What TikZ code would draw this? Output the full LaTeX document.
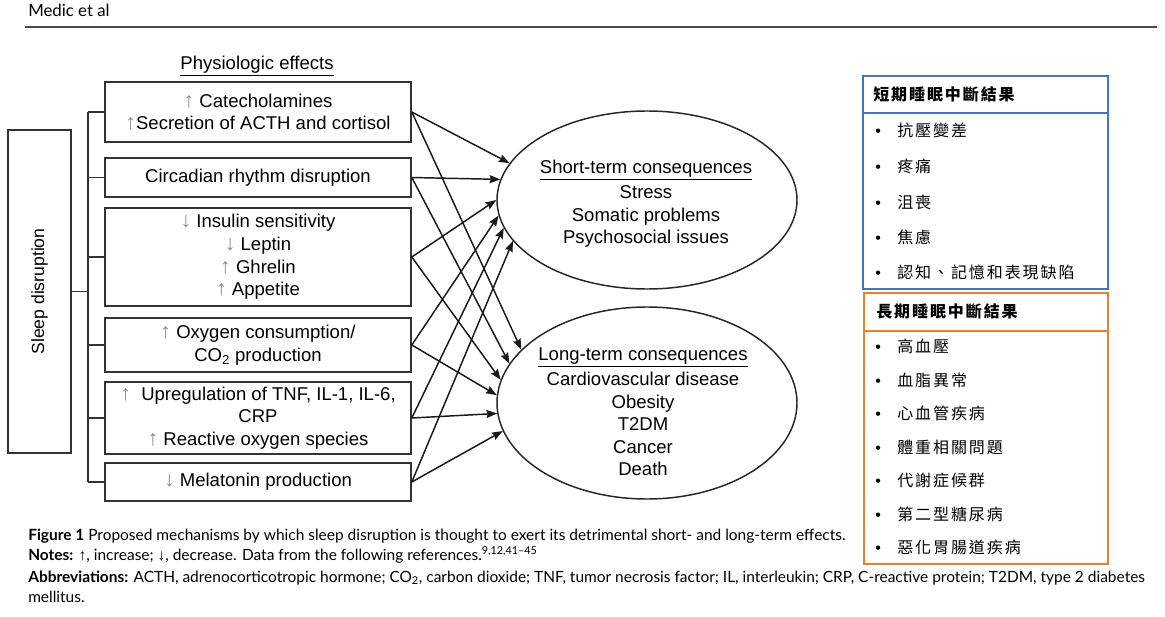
\documentclass[tikz,border=0pt]{standalone}
\usepackage{fontspec}
\setmainfont{Liberation Sans}
\newfontfamily\capfont{Lato}
\newfontfamily\cjk[LetterSpace=12]{Noto Sans CJK TC}
\usetikzlibrary{arrows.meta,shapes.geometric}
\definecolor{tblblue}{HTML}{4472C4}
\definecolor{tblorange}{HTML}{ED7D31}
\definecolor{updown}{HTML}{8A8A8A}
\newcommand{\incr}{{\color{updown}\fontsize{16}{16}\selectfont↑}}
\newcommand{\decr}{{\color{updown}\fontsize{16}{16}\selectfont↓}}
\tikzset{
  effect/.style = {draw=black!80, line width=1.2pt, minimum width=229.5pt, align=center,
    inner sep=0pt, font=\fontsize{13.9}{17}\selectfont},
  conseq/.style = {ellipse, draw=black!85, line width=1.1pt, minimum width=225pt, inner sep=0pt},% ellipse des consequences
  conseqtext/.style = {align=center, inner sep=0pt, font=\fontsize{13.9}{16.9}\selectfont},
  link/.style = {draw=black!80, line width=1.2pt},
  cause/.style = {->, draw=black!90, line width=1.1pt},
  tblhead/.style = {anchor=west, inner sep=0pt, font=\cjk\bfseries\fontsize{12}{12}\selectfont},
  tblitem/.style = {anchor=west, inner sep=0pt, font=\cjk\fontsize{12}{12}\selectfont,
    execute at begin node={\makebox[16.5pt][l]{\rmfamily\textbullet}}},
  captext/.style = {anchor=base west, inner sep=0pt, font=\capfont\fontsize{11.6}{13}\selectfont},
}

\begin{document}
\begin{tikzpicture}[x=0.75pt, y=-0.75pt, >={Stealth[length=8pt,width=6pt,inset=1pt]}]
\useasboundingbox (0,0) rectangle (1165,617);
% en-tete
\node[captext, font=\capfont\fontsize{12.6}{14}\selectfont] (running) at (28,17) {Medic et al};
\draw[black!70, line width=1pt] (25,27) -- (1157,27);

\node[font=\fontsize{13.9}{16.9}\selectfont] (phys) at (257,66) {\underline{Physiologic effects}};
\node[draw=black!80, line width=1.2pt, rotate=90, minimum width=242.25pt, minimum height=47.25pt,
  inner sep=0pt, font=\fontsize{13.2}{16}\selectfont] (sleep) at (39.5,291.5) {Sleep disruption};

\node[effect, minimum height=45pt] (e1) at (258,112)
  {\incr\ Catecholamines\\\incr Secretion of ACTH and cortisol};
\node[effect, minimum height=29.25pt] (e2) at (258,177.5) {Circadian rhythm disruption};
\node[effect, minimum height=73.5pt] (e3) at (258,257)
  {\decr\ Insulin sensitivity\\\decr\ Leptin\\\incr\ Ghrelin\\\incr\ Appetite};
\node[effect, minimum height=40.5pt] (e4) at (258,345)
  {\incr\ Oxygen consumption/\\CO\textsubscript{2} production};
\node[effect, minimum height=54pt] (e5) at (258,418)
  {\incr\ \ Upregulation of TNF, IL-1, IL-6,\\CRP\\\incr\ Reactive oxygen species};
\node[effect, minimum height=28.5pt] (e6) at (258,482) {\decr\ Melatonin production};

% accolade
\coordinate (bus) at (88,0);
\draw[link] (sleep.south) -- (sleep.south -| bus);
\draw[link] (bus |- e1.west) -- (bus |- e6.west);
\draw[link] (e1.west) -- (e1.west -| bus);
\draw[link] (e2.west) -- (e2.west -| bus);
\draw[link] (e3.west) -- (e3.west -| bus);
\draw[link] (e4.west) -- (e4.west -| bus);
\draw[link] (e5.west) -- (e5.west -| bus);
\draw[link] (e6.west) -- (e6.west -| bus);

\node[conseq, minimum height=133.5pt] (short) at (647,200) {};
\node[conseqtext] (shorttxt) at (646,204)
  {\underline{Short-term consequences}\\[2pt]Stress\\Somatic problems\\Psychosocial issues};
\node[conseq, minimum height=144pt] (long) at (647,403) {};
\node[conseqtext] (longtxt) at (643,412)
  {\underline{Long-term consequences}\\[2pt]Cardiovascular disease\\Obesity\\T2DM\\Cancer\\Death};

\draw[cause] (e1.east) -- (short.165);
\draw[cause] (e1.east) -- (long.157);
\draw[cause] (e2.east) -- (short.172);
\draw[cause] (e2.east) -- (long.164);
\draw[cause] (e3.east) -- (short.180);
\draw[cause] (e3.east) -- (long.171);
\draw[cause] (e4.east) -- (short.186);
\draw[cause] (e4.east) -- (long.177);
\draw[cause] (e5.east) -- (short.191);
\draw[cause] (e5.east) -- (long.184);
\draw[cause] (e6.east) -- (short.197);
\draw[cause] (e6.east) -- (long.191);

% tableaux
\draw[tblblue, line width=0.8pt] (863,76) rectangle (1108,289);
\draw[tblblue, line width=0.8pt] (863,113) -- (1108,113);
\node[tblhead] (shorttitle) at (873,94) {短期睡眠中斷結果};
\node[tblitem] (s1) at (875,130) {抗壓變差};
\node[tblitem] (s2) at (875,166) {疼痛};
\node[tblitem] (s3) at (875,202) {沮喪};
\node[tblitem] (s4) at (875,237) {焦慮};
\node[tblitem] (s5) at (875,272) {認知、記憶和表現缺陷};

\draw[tblorange, line width=0.8pt] (864,293) rectangle (1108,564);
\draw[tblorange, line width=0.8pt] (864,331) -- (1108,331);
\node[tblhead] (longtitle) at (876,311) {長期睡眠中斷結果};
\node[tblitem] (l1) at (875,346) {高血壓};
\node[tblitem] (l2) at (875,380) {血脂異常};
\node[tblitem] (l3) at (875,413) {心血管疾病};
\node[tblitem] (l4) at (875,447) {體重相關問題};
\node[tblitem] (l5) at (875,480) {代謝症候群};
\node[tblitem] (l6) at (875,514) {第二型糖尿病};
\node[tblitem] (l7) at (875,547) {惡化胃腸道疾病};

% legende
\node[captext] (cap1) at (28,540) {\textbf{Figure 1} Proposed mechanisms by which sleep disruption is thought to exert its detrimental short- and long-term effects.};
\node[captext] (cap2) at (28,560) {\textbf{Notes:} {\rmfamily ↑}, increase; {\rmfamily ↓}, decrease. Data from the following references.\textsuperscript{9,12,41–45}};
\node[captext] (cap3) at (28,582) {\textbf{Abbreviations:} ACTH, adrenocorticotropic hormone; CO\textsubscript{2}, carbon dioxide; TNF, tumor necrosis factor; IL, interleukin; CRP, C-reactive protein; T2DM, type 2 diabetes};
\node[captext] (cap4) at (28,602) {mellitus.};
\end{tikzpicture}
\end{document}
